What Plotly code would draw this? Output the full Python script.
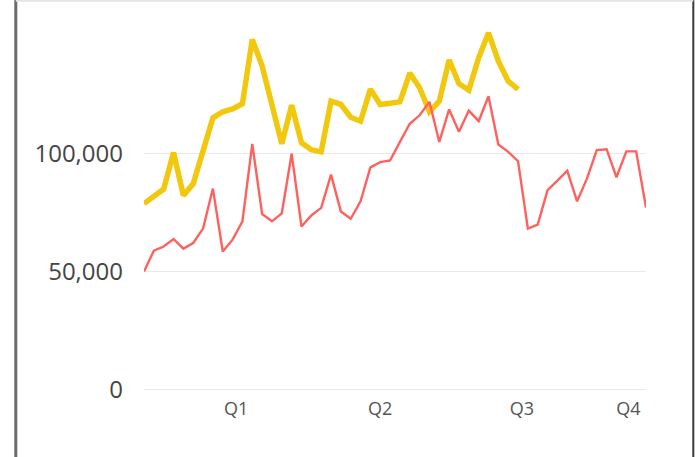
import plotly.graph_objects as go

# Weekly index (52 weeks)
weeks = list(range(52))

red_values = [
    50000, 58800, 60600, 63800, 59700, 62100, 68200, 85200, 58500, 63500,
    71300, 104200, 74400, 71300, 74700, 100000, 69100, 73800, 77000, 91100,
    75500, 72400, 79800, 94200, 96400, 97100, 105000, 112700, 116300, 122000,
    105000, 118800, 109300, 118300, 113800, 124400, 103900, 100800, 96800, 68200,
    69900, 84500, 88600, 92800, 79800, 89400, 101500, 101900, 90000, 101000,
    101000, 77200,
]

yellow_values = [
    78800, 81900, 85000, 100500, 82300, 87200, 101500, 115200, 117800, 119000,
    121200, 148500, 137200, 120400, 104200, 120600, 104600, 101700, 100800, 122300,
    120900, 115500, 113800, 127400, 120900, 121400, 122000, 134200, 128000, 117800,
    122300, 139800, 129700, 127000, 140700, 151300, 139300, 130800, 127300,
]

x_tick_positions = [9.35, 23.98, 38.4, 49.2]
x_tick_labels = ["Q1", "Q2", "Q3", "Q4"]
y_tick_values = [0, 50000, 100000]
y_tick_labels = ["0", "50,000", "100,000"]

fig = go.Figure()
fig.add_trace(go.Scatter(
    x=weeks[:len(yellow_values)], y=yellow_values, mode="lines",
    line=dict(color="#F2C80F", width=5.5), hoverinfo="skip", showlegend=False,
))
fig.add_trace(go.Scatter(
    x=weeks[:len(red_values)], y=red_values, mode="lines",
    line=dict(color="#FD625E", width=2.4), hoverinfo="skip", showlegend=False,
))

W, H = 695, 457
L, R, T, B = 144, 49, 10, 64
pw, ph = W - L - R, H - T - B

# pixel scale: 100,000 spans 389.3 -> 153.7
px_per_unit = (389.3 - 153.7) / 100000
y_bottom_px = H - B  # 393
y_min = -(y_bottom_px - 389.3) / px_per_unit
y_max = (389.3 - T) / px_per_unit

def px_x(p):
    return (p - L) / pw

def px_y(p):
    return (H - B - p) / ph

shapes = [
    dict(type="line", xref="paper", yref="paper",
         x0=px_x(15.8), x1=px_x(15.8), y0=px_y(0), y1=px_y(H),
         line=dict(color="#6b6b6b", width=3)),
    dict(type="line", xref="paper", yref="paper",
         x0=px_x(693.3), x1=px_x(693.3), y0=px_y(0), y1=px_y(H),
         line=dict(color="#3a3a3a", width=2)),
    dict(type="line", xref="paper", yref="paper",
         x0=px_x(15.8), x1=px_x(693.3), y0=px_y(0.8), y1=px_y(0.8),
         line=dict(color="#e4e4e4", width=2)),
]

fig.update_layout(
    width=W, height=H,
    margin=dict(l=L, r=R, t=T, b=B, pad=0),
    paper_bgcolor="white", plot_bgcolor="white",
    shapes=shapes,
    xaxis=dict(
        range=[0, 51], tickmode="array", tickvals=x_tick_positions,
        ticktext=x_tick_labels, showgrid=False, zeroline=False, showline=False,
        ticks="", tickfont=dict(family="Open Sans", size=18, color="#555555"),
        ticklabelstandoff=3,
    ),
    yaxis=dict(
        range=[y_min, y_max], tickmode="array",
        tickvals=y_tick_values, ticktext=y_tick_labels,
        showgrid=True, gridcolor="#e9e9e9", gridwidth=1,
        zeroline=False, showline=False, ticks="",
        tickfont=dict(family="Open Sans", size=24, color="#454545"),
        ticklabelstandoff=20,
    ),
)

fig.write_html("out.html")
